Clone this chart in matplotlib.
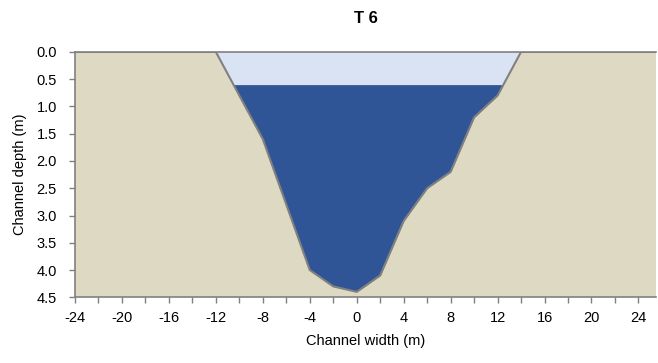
import numpy as np
import matplotlib.pyplot as plt

plt.rcParams['font.family'] = ['Liberation Sans', 'DejaVu Sans']

# channel bed profile (width m, depth m)
width = [-24, -12, -8, -6, -4, -2, 0, 2, 4, 6, 8, 10, 12, 14, 25.5]
depth = [0.0, 0.0, 1.6, 2.8, 4.0, 4.3, 4.4, 4.1, 3.1, 2.5, 2.2, 1.2, 0.8, 0.0, 0.0]
water_level = 0.6

x_ticks = np.arange(-24, 26, 2)
y_ticks = np.arange(0, 4.51, 0.5)

w = np.array(width)
d = np.array(depth)
xf = np.linspace(w[0], w[-1], 3000)
df = np.interp(xf, w, d)

fig = plt.figure(figsize=(6.58, 3.63), dpi=100)
ax = fig.add_axes([0.114, 0.181, 0.883, 0.676])
ax.set_facecolor('#DDD9C3')

# air / bank-full part
ax.fill_between(xf, 0, np.minimum(df, water_level), where=df > 0,
                color='#DAE3F3', lw=0)
# water body
ax.fill_between(xf, water_level, df, where=df > water_level,
                color='#2F5597', lw=0, interpolate=True)
ax.plot(w, d, color='#808080', lw=1.5)

ax.set_xlim(-24, 25.5)
ax.set_ylim(4.5, 0)
ax.set_xticks(x_ticks)
ax.set_xticklabels([str(t) if t % 4 == 0 else '' for t in x_ticks])
ax.set_yticks(y_ticks)
ax.set_yticklabels(['%.1f' % t for t in y_ticks])
ax.tick_params(colors='#808080', labelcolor='black', labelsize=10.5,
               length=4, width=1)
ax.tick_params(axis='x', pad=6)
ax.tick_params(axis='y', pad=9)
for s in ['left', 'bottom', 'top']:
    ax.spines[s].set_color('#808080')
    ax.spines[s].set_linewidth(1.2)
ax.spines['right'].set_visible(False)

ax.set_xlabel('Channel width (m)', fontsize=10.5, labelpad=6)
ax.set_ylabel('Channel depth (m)', fontsize=10.5, labelpad=7)
ax.set_title('T 6', fontsize=12, fontweight='bold', pad=21)

plt.savefig('out.png', dpi=100)
